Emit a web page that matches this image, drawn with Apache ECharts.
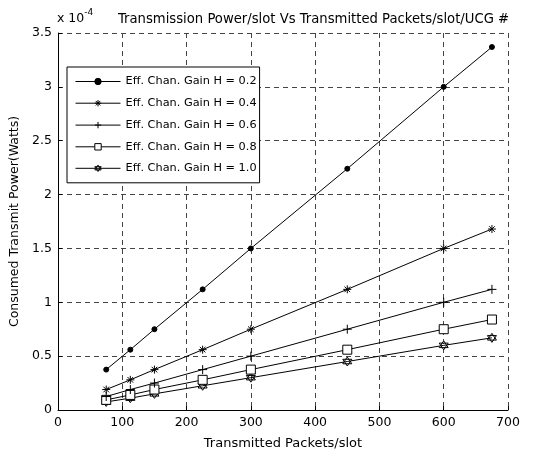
<!DOCTYPE html>
<html>
<head>
<meta charset="utf-8">
<script src="https://cdn.jsdelivr.net/npm/echarts@6/dist/echarts.min.js"></script>
<style>
  html, body { margin: 0; padding: 0; background: #fff; }
  #chart { width: 555px; height: 455px; }
</style>
</head>
<body>
<div id="chart"></div>
<script>
// packets per slot (x)
const packets = [75, 112.5, 150, 225, 300, 450, 600, 675];
// consumed power, in units of 1e-4 W
const h02 = [0.375, 0.56, 0.75, 1.12, 1.5, 2.24, 3.0, 3.37];
const h04 = [0.19, 0.28, 0.375, 0.56, 0.75, 1.12, 1.5, 1.68];
const h06 = [0.125, 0.19, 0.25, 0.375, 0.5, 0.75, 1.0, 1.12];
const h08 = [0.094, 0.14, 0.19, 0.28, 0.375, 0.56, 0.75, 0.84];
const h10 = [0.075, 0.11, 0.15, 0.225, 0.3, 0.45, 0.6, 0.67];
const seriesNames = [
  'Eff. Chan. Gain H = 0.2',
  'Eff. Chan. Gain H = 0.4',
  'Eff. Chan. Gain H = 0.6',
  'Eff. Chan. Gain H = 0.8',
  'Eff. Chan. Gain H = 1.0'
];

const FONT = 'DejaVu Sans';

// marker shapes (asterisk, plus, hexagram are outline paths)
const SYMBOLS = [
  { symbol: 'circle', size: 5, fill: '#000' },
  { symbol: 'path://M-10,0L10,0M0,-10L0,10M-7,-7L7,7M-7,7L7,-7', size: 8, fill: 'none' },
  { symbol: 'path://M-10,0L10,0M0,-10L0,10', size: 9, fill: 'none' },
  { symbol: 'rect', size: 9, fill: '#fff' },
  { symbol: 'path://M0,-10L8.66,5L-8.66,5ZM0,10L8.66,-5L-8.66,-5Z', size: 9, fill: '#fff' }
];

const allData = [h02, h04, h06, h08, h10];

const series = allData.map((vals, i) => ({
  name: seriesNames[i],
  type: 'line',
  data: packets.map((x, j) => [x, vals[j]]),
  symbol: SYMBOLS[i].symbol,
  symbolSize: SYMBOLS[i].size,
  showAllSymbol: true,
  silent: true,
  lineStyle: { color: '#000', width: 1 },
  itemStyle: { color: SYMBOLS[i].fill, borderColor: '#000', borderWidth: 1 },
  emphasis: { disabled: true },
  z: 10 - i
}));

const axisText = { color: '#000', fontFamily: FONT, fontSize: 12.5 };
const gridLine = { show: true, lineStyle: { color: '#444', type: [5, 4], width: 1 } };

const chart = echarts.init(document.getElementById('chart'));
chart.setOption({
  animation: false,
  backgroundColor: '#fff',
  title: {
    text: 'Transmission Power/slot Vs Transmitted Packets/slot/UCG #',
    left: 118,
    top: 13,
    padding: 0,
    textStyle: { fontFamily: FONT, fontSize: 13.2, fontWeight: 'normal', color: '#000' }
  },
  graphic: [{
    type: 'text',
    left: 57,
    top: 8,
    style: {
      text: 'x 10{s|-4}',
      fontFamily: FONT,
      fontSize: 12.5,
      fill: '#000',
      rich: { s: { fontSize: 9, verticalAlign: 'top', padding: [0, 0, 12, 0], fontFamily: FONT } }
    }
  }],
  grid: {
    left: 54, right: 47, top: 33, bottom: 42
  },
  legend: {
    orient: 'vertical',
    left: 67,
    top: 67,
    padding: [9, 3, 9, 8],
    itemGap: 10.5,
    itemWidth: 45,
    itemHeight: 8,
    backgroundColor: '#fff',
    borderColor: '#000',
    borderWidth: 1,
    borderRadius: 0,
    selectedMode: false,
    itemStyle: { borderColor: '#000', borderWidth: 1 },
    lineStyle: { color: '#000', width: 1 },
    textStyle: { fontFamily: FONT, fontSize: 11.3, color: '#000' },
    data: seriesNames
  },
  xAxis: {
    type: 'value',
    min: 0, max: 700, interval: 100,
    name: 'Transmitted Packets/slot',
    nameLocation: 'middle',
    nameGap: 27,
    nameTextStyle: { fontFamily: FONT, fontSize: 13, color: '#000' },
    axisLine: { show: true, onZero: false, lineStyle: { color: '#000' } },
    axisTick: { inside: true, length: 4, lineStyle: { color: '#000' } },
    axisLabel: Object.assign({ margin: 6 }, axisText),
    splitLine: gridLine
  },
  yAxis: {
    type: 'value',
    min: 0, max: 3.5, interval: 0.5,
    name: 'Consumed Transmit Power(Watts)',
    nameLocation: 'middle',
    nameGap: 37,
    nameTextStyle: { fontFamily: FONT, fontSize: 12.5, color: '#000' },
    axisLine: { show: true, lineStyle: { color: '#000' } },
    axisTick: { inside: true, length: 4, lineStyle: { color: '#000' } },
    axisLabel: Object.assign({ margin: 6 }, axisText),
    splitLine: gridLine
  },
  series: series
});
</script>
</body>
</html>
